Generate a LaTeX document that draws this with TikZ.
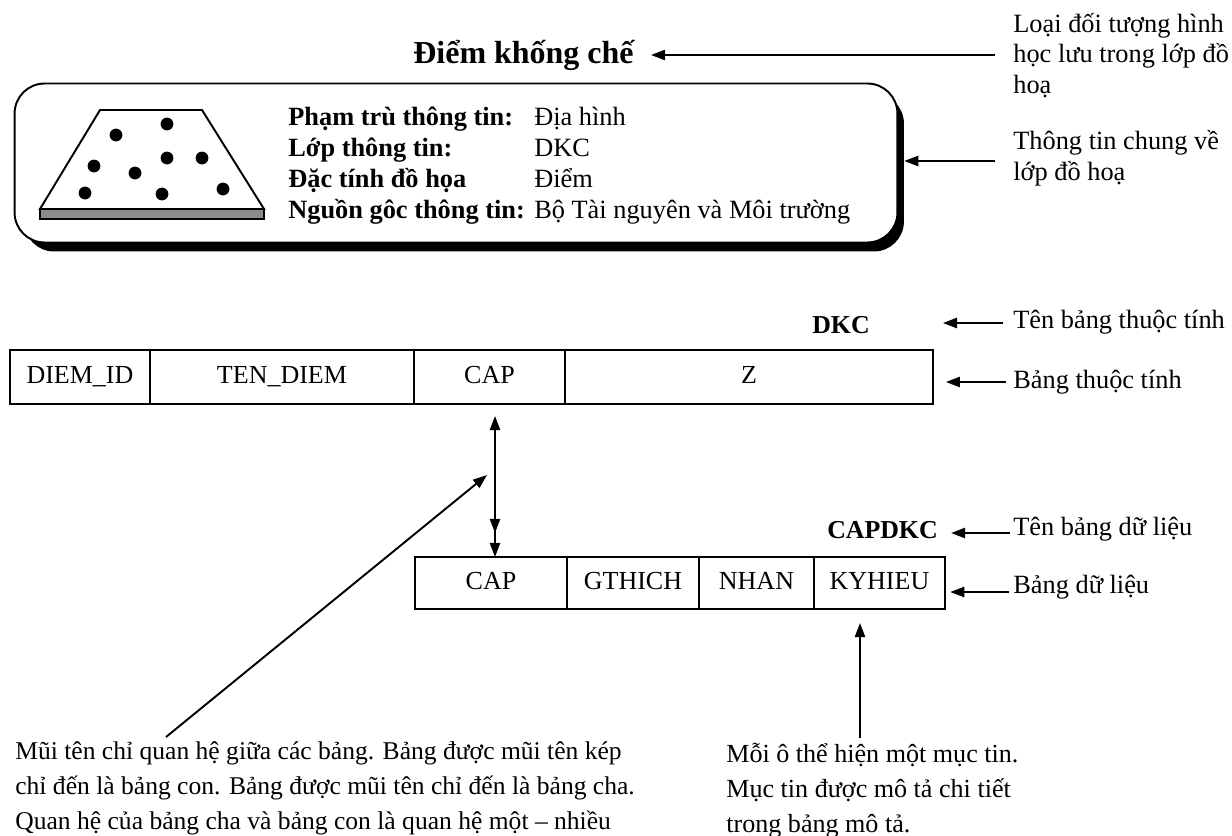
\documentclass[tikz,border=0pt]{standalone}
\usepackage{fontspec}
\setmainfont{Liberation Serif}
\usetikzlibrary{arrows.meta}
\tikzset{
	txt/.style={font=\fontsize{15}{17.2}\selectfont, inner sep=0pt, anchor=base west, align=left},
	note/.style={font=\fontsize{14.55}{19.9}\selectfont, inner sep=0pt, anchor=base west, align=left},
	tblname/.style={font=\fontsize{14.7}{17}\selectfont\bfseries, inner sep=0pt, anchor=base},
	cellbox/.style={draw, line width=1.1pt, anchor=north west, inner sep=0pt, outer sep=0pt, minimum height=1.08cm, text height=7.6pt, text depth=0pt, font=\fontsize{14.8}{17}\selectfont},
	arr/.style={-{Triangle[length=8pt,width=5.8pt]}, line width=1.1pt},
}
\begin{document}
\begin{tikzpicture}[x=0.02cm, y=-0.02cm]
	\useasboundingbox (0,0) rectangle (1232,836);
	% header
	\node[font=\fontsize{18.2}{20}\selectfont\bfseries, inner ysep=0pt, inner xsep=9.7pt, anchor=base] (title) at (523.5,63) {Điểm khống chế};
	\node[fill=black, rounded corners=0.6cm, minimum width=17.6cm, minimum height=3.16cm, inner sep=0pt] (infoShadow) at (464,172.5) {};
	\node[draw, fill=white, line width=1.1pt, rounded corners=0.6cm, minimum width=17.66cm, minimum height=3.18cm, inner sep=0pt, outer sep=0pt] (infoBox) at (456,163) {};
	% map symbol
	\draw[line width=1.1pt, fill=white] (100,110) -- (202,110) -- (264,209) -- (40,209) -- cycle;
	\draw[line width=1.1pt, fill=black!45] (40,209) rectangle (264,219);
	\foreach \px/\py in {116/135, 167/124, 94/166, 135/173, 167/158, 202/158, 85/193, 162/194, 223/189}
		\fill (\px,\py) circle (6.4);
	\node[txt, font=\fontsize{15}{17.6}\selectfont] (infoText) at (288,218) {\begin{tabular}[b]{@{}p{140pt}@{}l@{}}
		\textbf{Phạm trù thông tin:} & Địa hình\\
		\textbf{Lớp thông tin:} & DKC\\
		\textbf{Đặc tính đồ họa} & Điểm\\
		\textbf{Nguồn gôc thông tin:} & Bộ Tài nguyên và Môi trường
	\end{tabular}};
	% attribute table
	\node[tblname] (dkcName) at (841,333) {DKC};
	\node[cellbox, minimum width=2.8cm] (diemId) at (10,350) {DIEM\_ID};
	\node[cellbox, minimum width=5.28cm] (tenDiem) at (150,350) {TEN\_DIEM};
	\node[cellbox, minimum width=3.02cm] (capAttr) at (414,350) {CAP};
	\node[cellbox, minimum width=7.36cm] (zAttr) at (565,350) {Z};
	% data table
	\node[tblname] (capName) at (882.5,538) {CAPDKC};
	\node[cellbox, minimum width=3.04cm, minimum height=1.04cm] (capData) at (415,557) {CAP};
	\node[cellbox, minimum width=2.64cm, minimum height=1.04cm] (gthich) at (567,557) {GTHICH};
	\node[cellbox, minimum width=2.3cm, minimum height=1.04cm] (nhan) at (699,557) {NHAN};
	\node[cellbox, minimum width=2.62cm, minimum height=1.04cm] (kyhieu) at (814,557) {KYHIEU};
	% right labels
	\node[txt] (lblType) at (1013,93) {Loại đối tượng hình\\học lưu trong lớp đồ\\hoạ};
	\node[txt] (lblInfo) at (1013,180) {Thông tin chung về\\lớp đồ hoạ};
	\node[txt] (lblAttrName) at (1013,328) {Tên bảng thuộc tính};
	\node[txt] (lblAttr) at (1013,388) {Bảng thuộc tính};
	\node[txt] (lblDataName) at (1013,535) {Tên bảng dữ liệu};
	\node[txt] (lblData) at (1013,593) {Bảng dữ liệu};
	% bottom notes
	\node[note] (noteRel) at (15,829) {Mũi tên chỉ quan hệ giữa các bảng. Bảng được mũi tên kép\\chỉ đến là bảng con. Bảng được mũi tên chỉ đến là bảng cha.\\Quan hệ của bảng cha và bảng con là quan hệ một – nhiều};
	\node[note, font=\fontsize{14.85}{19.9}\selectfont] (noteCell) at (726,832) {Mỗi ô thể hiện một mục tin.\\Mục tin được mô tả chi tiết\\trong bảng mô tả.};
	% free ends
	\coordinate (fromType) at (995,55);
	\coordinate (fromInfo) at (995,161);
	\coordinate (fromAttrName) at (1003,323);
	\coordinate (fromAttr) at (1006,382);
	\coordinate (fromDataName) at (1010,533);
	\coordinate (fromData) at (1009,592);
	\coordinate (relStart) at (166,737);
	\coordinate (relTip) at (487,475);
	\coordinate (cellStart) at (860,738);
	\coordinate (cellTip) at (860,623);
	\coordinate (dblTop) at (495,416);
	% connectors
	\draw[arr] (fromType) -- (fromType -| title.east);
	\draw[arr] (fromInfo) -- (fromInfo -| infoShadow.east);
	\draw[arr, shorten >=41.5pt] (fromAttrName) -- (fromAttrName -| dkcName.east);
	\draw[arr, shorten >=7.4pt] (fromAttr) -- (fromAttr -| zAttr.east);
	\draw[arr, shorten >=7.4pt] (fromDataName) -- (fromDataName -| capName.east);
	\draw[arr, shorten >=3pt] (fromData) -- (fromData -| kyhieu.east);
	\draw[arr] (relStart) -- (relTip);
	\draw[arr] (cellStart) -- (cellTip);
	\draw[{Triangle[length=8pt,width=5.8pt]}-{Triangle[length=8pt,width=5.8pt,sep=5.7pt]Triangle[length=8pt,width=5.8pt]}, line width=1.1pt] (dblTop) -- (dblTop |- capData.north);
\end{tikzpicture}
\end{document}
